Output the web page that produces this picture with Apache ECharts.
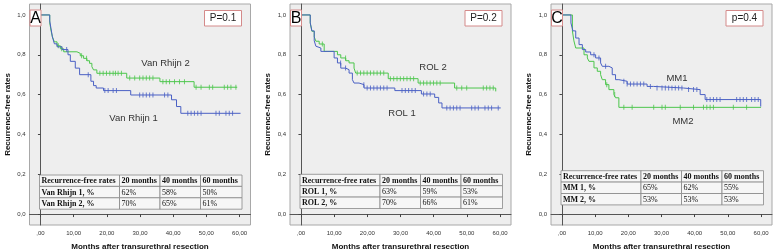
<!DOCTYPE html>
<html>
<head>
<meta charset="utf-8">
<script src="https://cdn.jsdelivr.net/npm/echarts@6/dist/echarts.min.js"></script>
<style>
html, body { margin: 0; padding: 0; background: #fff; }
#chart { width: 778px; height: 252px; }
</style>
</head>
<body>
<div id="chart"></div>
<script>
// axis ticks (SPSS style, decimal comma)
const xTicks = [0, 10, 20, 30, 40, 50, 60];
const xTickLabels = [',00', '10,00', '20,00', '30,00', '40,00', '50,00', '60,00'];
const yTicks = [0, 0.2, 0.4, 0.6, 0.8, 1.0];
const yTickLabels = ['0,0', '0,2', '0,4', '0,6', '0,8', '1,0'];

const panelLetters = ['A', 'B', 'C'];
const pValues = ['P=0.1', 'P=0.2', 'p=0.4'];
const groupNames = [['Van Rhijn 1', 'Van Rhijn 2'], ['ROL 1', 'ROL 2'], ['MM1', 'MM2']];

const tableHeader = ['Recurrence-free rates', '20 months', '40 months', '60 months'];
const tableA = [['Van Rhijn 1, %', '62%', '58%', '50%'], ['Van Rhijn 2, %', '70%', '65%', '61%']];
const tableB = [['ROL 1, %', '63%', '59%', '53%'], ['ROL 2, %', '70%', '66%', '61%']];
const tableC = [['MM 1, %', '65%', '62%', '55%'], ['MM 2, %', '53%', '53%', '53%']];

// Kaplan-Meier steps: [months, survival after the event]
const vanRhijn1 = [[0,1],[2.8,0.97],[3.2,0.93],[3.6,0.89],[4.2,0.855],[5,0.84],[6.5,0.826],[8.3,0.80],[9,0.767],[10.5,0.733],[11.8,0.70],[15.2,0.667],[16,0.645],[16.8,0.633],[19,0.62],[27.2,0.598],[39.5,0.574],[41,0.54],[42.3,0.506],[60.3,0.506]];
const vanRhijn2 = [[0,1],[2.8,0.96],[3.2,0.92],[3.6,0.89],[4.2,0.865],[5,0.845],[6,0.83],[7,0.815],[11,0.807],[12,0.795],[13,0.782],[14,0.77],[14.8,0.757],[15.5,0.74],[16,0.724],[17,0.707],[26,0.683],[36,0.665],[46.3,0.637],[59.3,0.637]];
const rol1 = [[0,1],[2.8,0.96],[3.3,0.92],[4,0.87],[4.5,0.843],[5,0.834],[6,0.817],[10,0.784],[11,0.759],[12,0.733],[13.5,0.725],[14.5,0.708],[15.5,0.675],[16,0.658],[17.5,0.65],[19,0.633],[28.3,0.62],[36.3,0.603],[40.3,0.586],[41.5,0.558],[42.5,0.533],[60.2,0.533]];
const rol2 = [[0,1],[2.8,0.96],[3.3,0.918],[4,0.89],[4.5,0.868],[5.5,0.854],[7,0.817],[11,0.80],[12,0.784],[13.5,0.77],[14.5,0.759],[16,0.733],[16.5,0.708],[26.3,0.68],[35.3,0.658],[46.3,0.633],[58.7,0.616],[58.8,0.616]];
const mm1 = [[0,1],[2.7,0.96],[3.3,0.92],[4.15,0.884],[5.15,0.851],[6.15,0.826],[7.15,0.814],[8.65,0.80],[10.15,0.784],[11.65,0.759],[12.15,0.742],[14.15,0.734],[15.15,0.70],[16.15,0.675],[17.15,0.667],[19.65,0.653],[25.65,0.641],[27.65,0.633],[36.65,0.625],[41.65,0.60],[43.15,0.575],[59.9,0.54],[60.1,0.54]];
const mm2 = [[0,1],[3.15,0.92],[3.6,0.87],[4.15,0.834],[6.65,0.80],[7.65,0.784],[8.15,0.767],[9.65,0.734],[10.65,0.717],[11.65,0.70],[12.15,0.675],[13.15,0.65],[14.15,0.625],[15.65,0.60],[16.15,0.584],[17.15,0.536],[60,0.536]];

// censored cases (months)
const vanRhijn1Censor = [7.9,14.4,19.4,20.4,21.9,22.9,29.9,30.9,31.9,32.9,33.9,37.4,38.4,44.4,45.4,46.4,47.4,48.4,52.9,53.9,55.9,56.9,57.9];
const vanRhijn2Censor = [5.4,6.4,12.4,13.9,17.9,18.9,19.9,20.9,21.9,22.6,23.4,24.4,26.9,28.4,29.9,30.9,31.9,32.9,33.9,36.9,37.9,38.9,40.4,41.9,43.4,46.9,48.4,50.9,51.9,55.4,56.4,57.4,58.9];
const rol1Censor = [11.95,13.45,18.95,19.95,20.95,21.95,22.95,23.95,24.95,25.95,30.45,31.45,32.45,33.45,34.45,36.95,37.95,38.95,43.95,44.95,45.95,46.95,47.95,51.45,52.45,53.45,55.45,56.45,57.45,59.45];
const rol2Censor = [6.45,13.45,16.95,17.95,18.95,19.95,20.95,21.95,22.95,23.95,24.95,26.95,27.95,28.95,29.95,30.95,31.95,32.95,33.95,35.95,36.95,37.95,38.95,39.95,40.95,41.95,46.95,48.45,49.95,54.95,55.95,56.95,57.95];
const mm1Censor = [9.65,11.15,13.15,18.65,19.65,20.65,21.65,22.65,23.65,24.65,26.65,28.65,30.15,31.15,32.15,33.15,34.15,35.15,36.15,38.15,39.65,40.65,43.65,44.65,45.65,46.65,47.65,52.65,53.65,54.65,55.65,57.15,58.15,59.15];
const mm2Censor = [13.5,15.9,18.65,21.15,27.65,30.15,31.15,35.65,39.65,42.65,43.65,44.65,45.65,51.65,55.65];

const curves = [[vanRhijn1, vanRhijn2], [rol1, rol2], [mm1, mm2]];
const censors = [[vanRhijn1Censor, vanRhijn2Censor], [rol1Censor, rol2Censor], [mm1Censor, mm2Censor]];
const tables = [tableA, tableB, tableC];

// layout
const gridLefts = [29.5, 290, 551];
const gridWidth = 221;
const colors = ['#4a60c4', '#4cc64c'];
const labelPos = [[[104, 118], [136, 63]], [[112, 113], [143, 67]], [[126, 78], [132, 121]]];
const tableTops = [175, 174.3, 170.7];
const colEdges = [0, 80, 120.5, 161, 202.5];
const rowH = 11.4;

function survAt(curve, t) {
    let s = curve[0][1];
    for (const p of curve) {
        if (p[0] <= t) s = p[1]; else break;
    }
    return s;
}

const chart = echarts.init(document.getElementById('chart'), null, { renderer: 'canvas' });

const grids = [], xAxes = [], yAxes = [], series = [], graphics = [];
gridLefts.forEach((left, i) => {
    grids.push({
        left: left, top: 4, width: gridWidth, height: 221,
        outerBoundsMode: 'none', containLabel: false,
        show: true, backgroundColor: '#eeeeee', borderColor: '#a8a8a8', borderWidth: 1
    });
    xAxes.push({
        gridIndex: i, type: 'value', min: -3.3, max: 63.3,
        name: 'Months after transurethral resection', nameLocation: 'middle', nameGap: 18,
        nameTextStyle: { fontFamily: 'Liberation Sans', fontWeight: 'bold', fontSize: 8, color: '#111' },
        axisLine: { lineStyle: { color: '#555', width: 1 } },
        axisTick: { customValues: xTicks, length: 3, lineStyle: { color: '#444' } },
        axisLabel: {
            customValues: xTicks, margin: 5, fontSize: 6, fontFamily: 'Liberation Sans', color: '#333',
            formatter: v => xTickLabels[xTicks.indexOf(v)]
        },
        splitLine: { show: false }
    });
    yAxes.push({
        gridIndex: i, type: 'value', min: -0.055, max: 1.055,
        name: 'Recurrence-free rates', nameLocation: 'middle', nameGap: 18,
        nameTextStyle: { fontFamily: 'Liberation Sans', fontWeight: 'bold', fontSize: 8, color: '#111' },
        axisLine: { show: true, lineStyle: { color: '#555', width: 1 } },
        axisTick: { show: true, customValues: yTicks, length: 2.5, lineStyle: { color: '#444' } },
        axisLabel: {
            customValues: yTicks, margin: 4, fontSize: 6, fontFamily: 'Liberation Sans', color: '#333',
            formatter: v => yTickLabels[yTicks.findIndex(t => Math.abs(t - v) < 1e-6)]
        },
        splitLine: { show: false }
    });

    [1, 0].forEach(g => {
        series.push({
            type: 'line', xAxisIndex: i, yAxisIndex: i, step: 'end', data: curves[i][g],
            showSymbol: false, silent: true,
            lineStyle: { color: colors[g], width: 1 }, z: 3 + (1 - g)
        });
        series.push({
            type: 'scatter', xAxisIndex: i, yAxisIndex: i, silent: true,
            data: censors[i][g].map(t => [t, survAt(curves[i][g], t)]),
            symbol: 'rect', symbolSize: [1, 5],
            itemStyle: { color: colors[g] }, z: 3 + (1 - g)
        });
    });

    // panel letter box
    graphics.push({ type: 'rect', z: 10, shape: { x: left + 0.5, y: 10, width: 11, height: 16 },
        style: { fill: '#fff', stroke: '#d48a8a', lineWidth: 1 } });
    graphics.push({ type: 'text', z: 11, style: { x: left + 6, y: 18.5, text: panelLetters[i],
        font: '16px "Liberation Sans"', fill: '#000', textAlign: 'center', textVerticalAlign: 'middle' } });
    // p-value box
    graphics.push({ type: 'rect', z: 10, shape: { x: left + 175, y: 10.5, width: 37, height: 15.5 },
        style: { fill: '#fff', stroke: '#d48a8a', lineWidth: 1 } });
    graphics.push({ type: 'text', z: 11, style: { x: left + 193.5, y: 18.5, text: pValues[i],
        font: '10px "Liberation Sans"', fill: '#222', textAlign: 'center', textVerticalAlign: 'middle' } });
    // curve labels
    labelPos[i].forEach((p, g) => {
        graphics.push({ type: 'text', z: 11, style: { x: left + p[0], y: p[1], text: groupNames[i][g],
            font: '9.5px "Liberation Sans"', fill: '#333', textAlign: 'center', textVerticalAlign: 'middle' } });
    });
    // table
    const tx = left + 10, ty = tableTops[i];
    const rows = [tableHeader].concat(tables[i]);
    rows.forEach((row, r) => {
        row.forEach((cell, c) => {
            const x0 = tx + colEdges[c], x1 = tx + colEdges[c + 1];
            graphics.push({ type: 'rect', z: 10, shape: { x: x0, y: ty + r * rowH, width: x1 - x0, height: rowH },
                style: { fill: '#f6f6f6', stroke: '#888', lineWidth: 0.8 } });
            const bold = r === 0 || c === 0;
            graphics.push({ type: 'text', z: 11, style: { x: x0 + 2, y: ty + r * rowH + rowH / 2 + 0.5, text: cell,
                font: (bold ? 'bold ' : '') + '8px "Liberation Serif"', fill: '#111',
                textAlign: 'left', textVerticalAlign: 'middle' } });
        });
    });
});

chart.setOption({
    animation: false,
    grid: grids,
    xAxis: xAxes,
    yAxis: yAxes,
    series: series,
    graphic: { elements: graphics }
});
</script>
</body>
</html>
